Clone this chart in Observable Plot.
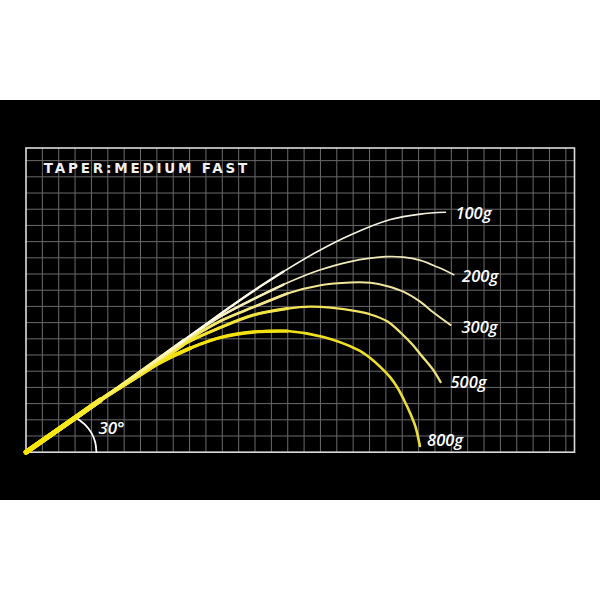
<!DOCTYPE html>
<html><head><meta charset="utf-8">
<script src="https://cdn.jsdelivr.net/npm/d3@7"></script>
<script src="https://cdn.jsdelivr.net/npm/@observablehq/plot@0.6"></script>
<style>
html,body{margin:0;padding:0;background:#fff;width:600px;height:600px;overflow:hidden}
#band{position:absolute;left:0;top:100px;width:600px;height:400px;background:#000}
</style></head><body><div id="band"></div>
<script>
// rod deflection curves (grid units, origin = rod butt)
const loads = ["100g", "200g", "300g", "500g", "800g"];
const x100 = [0, 2.11, 4.55, 7.00, 9.63, 11.71, 13.72, 15.74, 17.82, 19.83, 22.28, 24.11, 25.64];
const y100 = [0, 1.49, 3.22, 4.98, 6.90, 8.41, 9.83, 11.15, 12.39, 13.41, 14.36, 14.70, 14.81];
const x200 = [0, 2.11, 4.55, 7.00, 9.63, 11.71, 13.72, 15.74, 17.82, 19.83, 21.97, 23.07, 24.11, 25.15, 26.15];
const y200 = [0, 1.49, 3.22, 4.92, 6.85, 8.28, 9.36, 10.35, 11.20, 11.77, 12.07, 12.04, 11.84, 11.43, 10.96];
const x300 = [0, 2.11, 4.55, 7.00, 9.63, 11.89, 13.91, 15.98, 18.00, 19.83, 21.06, 22.10, 23.07, 24.11, 24.91, 25.95];
const y300 = [0, 1.49, 3.22, 4.86, 6.75, 8.10, 8.96, 9.80, 10.31, 10.48, 10.46, 10.25, 9.91, 9.28, 8.62, 7.85];
const x500 = [0, 2.11, 4.55, 7.00, 9.63, 11.89, 13.91, 15.98, 17.39, 18.61, 20.26, 21.06, 22.10, 22.89, 23.62, 24.17, 24.91, 25.34];
const y500 = [0, 1.49, 3.22, 4.80, 6.65, 7.70, 8.47, 8.87, 8.99, 8.93, 8.69, 8.50, 8.07, 7.39, 6.65, 5.97, 5.05, 4.33];
const x800 = [0, 2.11, 4.55, 7.00, 8.22, 10.06, 11.89, 13.91, 15.98, 18.18, 20.26, 21.06, 21.67, 22.28, 22.71, 23.07, 23.50, 23.81, 24.08];
const y800 = [0, 1.49, 3.22, 4.80, 5.55, 6.43, 7.08, 7.42, 7.48, 7.11, 6.33, 5.80, 5.25, 4.60, 3.98, 3.30, 2.37, 1.57, 0.38];

// label anchor points (text baseline start)
const labelX = [26.25, 26.66, 26.62, 25.95, 24.52];
const labelY = [14.41, 10.49, 7.37, 3.98, 0.41];

// 30° angle arc
const arcX = [4.31, 4.23, 4.00, 3.62, 3.14];
const arcY = [0, 0.61, 1.19, 1.68, 2.06];
const angleText = "30°";
const angleX = 4.43, angleY = 1.14;

const title = "TAPER:MEDIUM FAST";
const titleX = 1.09, titleY = 17.22;

// grid
const xMax = 33.53, yMax = 18.78;
const gridX = d3.range(1, 34);
const gridY = d3.range(1, 19);

// styling per curve
const gradStops = [
  [[0, "#f6e400"], [0.16, "#f8ea30"], [0.42, "#fffbea"], [1, "#f3f0e0"]],
  [[0, "#f6e400"], [0.2, "#f7e730"], [0.5, "#f7f0bc"], [1, "#eee8bc"]],
  [[0, "#f6e400"], [0.25, "#f6e520"], [0.6, "#f4e78a"], [1, "#ede3a6"]],
  [[0, "#f6e400"], [0.35, "#f5e41a"], [0.75, "#f2e45a"], [1, "#efe37a"]],
  [[0, "#f7e500"], [0.6, "#f3e210"], [1, "#ebdd3a"]]
];
const cutoffs = [Infinity, 16, 11, 6];
const widths = [
  [1.6, 2.3, 3.2, 4.6],
  [1.7, 2.5, 3.3, 4.6],
  [2.0, 2.7, 3.5, 4.7],
  [2.3, 3.0, 3.7, 4.8],
  [2.6, 3.3, 4.0, 5.0]
];

const xs = [x100, x200, x300, x500, x800];
const ys = [y100, y200, y300, y500, y800];
const rows = [];
loads.forEach((ld, i) => xs[i].forEach((x, j) => rows.push({load: ld, i, x, y: ys[i][j]})));
const labels = loads.map((ld, i) => ({text: ld, x: labelX[i], y: labelY[i]}));
const arc = arcX.map((x, j) => ({x, y: arcY[j]}));

function defsMark(index, scales) {
  const ns = "http://www.w3.org/2000/svg";
  const defs = document.createElementNS(ns, "defs");
  loads.forEach((ld, i) => {
    const g = document.createElementNS(ns, "linearGradient");
    g.setAttribute("id", "grad" + i);
    g.setAttribute("gradientUnits", "userSpaceOnUse");
    const n = xs[i].length - 1;
    g.setAttribute("x1", scales.x(0));
    g.setAttribute("y1", scales.y(0));
    g.setAttribute("x2", scales.x(xs[i][n]));
    g.setAttribute("y2", scales.y(ys[i][n]));
    gradStops[i].forEach(([o, c]) => {
      const s = document.createElementNS(ns, "stop");
      s.setAttribute("offset", o);
      s.setAttribute("stop-color", c);
      g.appendChild(s);
    });
    defs.appendChild(g);
  });
  return defs;
}

const curveMarks = [];
for (let i = loads.length - 1; i >= 0; i--) {
  cutoffs.forEach((c, k) => {
    curveMarks.push(Plot.line(rows.filter(d => d.i === i && d.x <= c), {
      x: "x", y: "y", curve: "catmull-rom",
      stroke: `url(#grad${i})`, strokeWidth: widths[i][k],
      strokeLinecap: "round", strokeLinejoin: "round"
    }));
  });
}

const chart = Plot.plot({
  width: 600, height: 400,
  marginLeft: 25.5, marginRight: 26, marginTop: 47.5, marginBottom: 48.3,
  style: {background: "black", color: "white", overflow: "visible"},
  x: {domain: [0, xMax], axis: null},
  y: {domain: [0, yMax], axis: null},
  marks: [
    defsMark,
    Plot.ruleX(gridX, {stroke: "#6a6a6a", strokeWidth: 1}),
    Plot.ruleY(gridY, {stroke: "#6a6a6a", strokeWidth: 1}),
    Plot.frame({stroke: "#dcdcdc", strokeWidth: 1.6}),
    Plot.line(arc, {x: "x", y: "y", curve: "catmull-rom", stroke: "white", strokeWidth: 1.8}),
    ...curveMarks,
    Plot.text([title], {x: () => titleX, y: () => titleY, text: d => d, textAnchor: "start",
      fill: "#efefef", fontSize: 13.5, fontWeight: "bold", fontFamily: "DejaVu Sans", dy: -4.4}),
    Plot.text([angleText], {x: () => angleX, y: () => angleY, text: d => d, textAnchor: "start",
      fill: "white", fontSize: 17, fontStyle: "italic", fontWeight: 600, fontFamily: "Open Sans", dy: -5.4}),
    Plot.text(labels, {x: "x", y: "y", text: "text", textAnchor: "start",
      fill: "white", fontSize: 16.5, fontStyle: "italic", fontWeight: 600, fontFamily: "Open Sans", dy: -5.3})
  ]
});
d3.select(chart).selectAll("text").filter(function() { return this.textContent.startsWith("TAPER"); })
  .attr("letter-spacing", 2.8);
document.getElementById("band").appendChild(chart);
</script></body></html>
